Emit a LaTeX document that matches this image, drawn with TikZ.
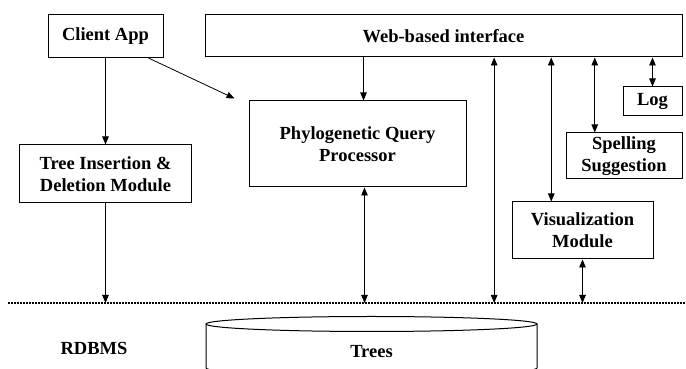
\documentclass[tikz,border=0pt]{standalone}
\usepackage{fontspec}
\setmainfont{Liberation Serif}
\usetikzlibrary{positioning}
\usetikzlibrary{calc}
\usetikzlibrary{arrows.meta}

\begin{document}
\begin{tikzpicture}[x=1pt, y=1pt,
modulenode/.style={rectangle, draw, line width=1pt, inner sep=0pt, align=center, font=\bfseries\fontsize{18.5}{22}\selectfont},
labelnode/.style={inner sep=0pt, font=\bfseries\fontsize{18.5}{22}\selectfont},
linkarrow/.style={-{Triangle[length=8pt,width=6.5pt]}, line width=0.8pt},
botharrow/.style={{Triangle[length=8pt,width=6.5pt]}-{Triangle[length=8pt,width=6.5pt]}, line width=0.8pt},
dbline/.style={line width=1.6pt, dash pattern=on 1.6pt off 1.4pt},
]
\useasboundingbox (0,0) rectangle (686,369);
\clip (0,0) rectangle (686,369);

%Nodes
\node[modulenode, minimum width=115, minimum height=43]	(client)	at (105.5,333)			{Client App};
\node[modulenode, minimum width=477, minimum height=42]	(web)		at (443.5,333)			{Web-based interface};
\node[modulenode, minimum width=172, minimum height=58]	(tins)		[below=86.5 of client]	{Tree Insertion \&\\Deletion Module};
\node[modulenode, minimum width=217, minimum height=86]	(phylo)		at (357.5,225)			{Phylogenetic Query\\Processor};
\node[modulenode, minimum width=59, minimum height=29]	(log)		[below left=29 and 0 of web.south east]	{Log};
\node[modulenode, minimum width=116, minimum height=46]	(spell)		[below left=16 and 0 of log.south east]	{Spelling\\Suggestion};
\node[modulenode, minimum width=141, minimum height=57]	(vis)		at (582.5,138.5)		{Visualization\\Module};
\node[labelnode]	(rdbms)		at (94,21)			{RDBMS};
\node[labelnode]	(trees)		at (371.5,17)		{Trees};

%Database
\coordinate (dbl) at (8,66);
\coordinate (dbr) at (686,66);
\draw[dbline] (dbl) -- (dbr);
\draw[line width=1pt] (371.5,45) ellipse [x radius=165.5, y radius=7.5];
\draw[line width=1pt] (206,45) -- (206,1) arc[start angle=180, end angle=360, x radius=165.5, y radius=7.5] -- (537,45);

%Lines
\coordinate (cq) at ($(phylo.north west)+(-14,2)$);
\coordinate (pq) at ([xshift=6]phylo.north);
\coordinate (pqs) at ([xshift=7]phylo.south);
\coordinate (wb) at ($(web.south west)!0.606!(web.south east)$);
\coordinate (vt) at ($(vis.north west)!0.28!(vis.north east)$);
\coordinate (st) at ($(spell.north west)!0.25!(spell.north east)$);
\draw[linkarrow] (client.south) -- (client.south |- tins.north);
\draw[linkarrow] ($(client.south west)!0.87!(client.south east)$) -- (cq);
\draw[linkarrow] (tins.south) -- (tins.south |- dbl);
\draw[linkarrow] (pq |- web.south) -- (pq);
\draw[botharrow] (pqs) -- (pqs |- dbl);
\draw[botharrow] (wb) -- (wb |- dbl);
\draw[botharrow] (vt |- web.south) -- (vt);
\draw[botharrow] (st |- web.south) -- (st);
\draw[botharrow] (log.north |- web.south) -- (log.north);
\draw[botharrow] (vis.south) -- (vis.south |- dbl);
\end{tikzpicture}
\end{document}
